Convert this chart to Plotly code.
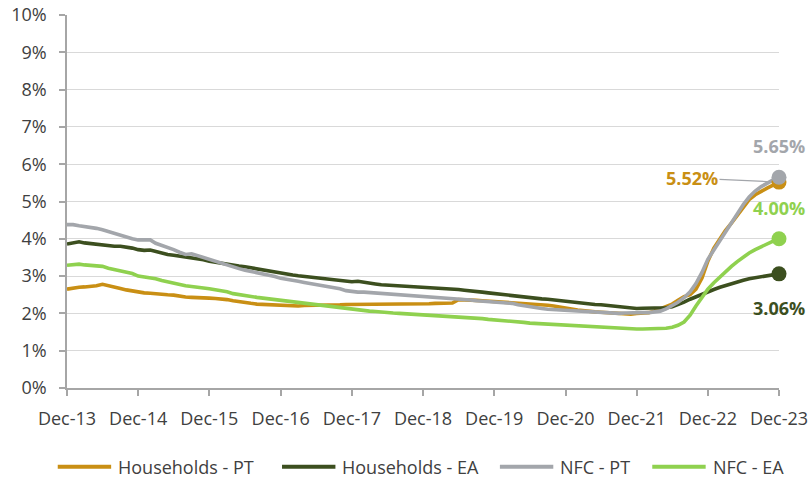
import pandas as pd
import plotly.graph_objects as go

# Monthly observations, Dec-2013 .. Dec-2023 (interest rates, %)
months = pd.date_range("2013-12-01", "2023-12-01", freq="MS")

households_pt = [
    2.65, 2.68, 2.70, 2.71, 2.72, 2.74, 2.78, 2.75, 2.71, 2.67, 2.63, 2.60,
    2.56, 2.55, 2.54, 2.52, 2.50, 2.50, 2.49, 2.46, 2.44, 2.43, 2.43, 2.42,
    2.41, 2.40, 2.39, 2.37, 2.34, 2.31, 2.29, 2.27, 2.25, 2.24, 2.23, 2.22,
    2.21, 2.20, 2.20, 2.20, 2.21, 2.21, 2.22, 2.22, 2.23, 2.23, 2.23, 2.24,
    2.24, 2.25, 2.25, 2.26, 2.25, 2.24, 2.25, 2.25, 2.24, 2.24, 2.25, 2.25,
    2.26, 2.26, 2.27, 2.27, 2.27, 2.28, 2.37, 2.37, 2.36, 2.35, 2.34, 2.33,
    2.32, 2.31, 2.31, 2.30, 2.29, 2.28, 2.27, 2.26, 2.24, 2.22, 2.20, 2.18,
    2.15, 2.12, 2.09, 2.07, 2.05, 2.04, 2.03, 2.02, 2.00, 1.99, 1.97, 1.98,
    2.00, 2.01, 2.02, 2.06, 2.12, 2.18, 2.25, 2.35, 2.45, 2.50, 2.65, 2.95,
    3.40, 3.75, 4.00, 4.22, 4.42, 4.62, 4.85, 5.05, 5.18, 5.28, 5.36, 5.44,
    5.52,
]

households_ea = [
    3.86, 3.88, 3.92, 3.89, 3.87, 3.86, 3.85, 3.82, 3.80, 3.80, 3.78, 3.75,
    3.71, 3.69, 3.70, 3.66, 3.62, 3.58, 3.56, 3.54, 3.51, 3.49, 3.47, 3.44,
    3.40, 3.37, 3.35, 3.33, 3.30, 3.27, 3.25, 3.22, 3.20, 3.18, 3.15, 3.12,
    3.08, 3.05, 3.03, 3.01, 2.99, 2.97, 2.95, 2.93, 2.91, 2.90, 2.88, 2.87,
    2.85, 2.86, 2.83, 2.81, 2.79, 2.77, 2.76, 2.75, 2.74, 2.73, 2.72, 2.71,
    2.70, 2.70, 2.70, 2.68, 2.66, 2.65, 2.64, 2.62, 2.61, 2.59, 2.57, 2.55,
    2.53, 2.52, 2.50, 2.48, 2.46, 2.44, 2.42, 2.41, 2.39, 2.38, 2.36, 2.34,
    2.33, 2.31, 2.30, 2.28, 2.26, 2.24, 2.23, 2.21, 2.20, 2.18, 2.16, 2.15,
    2.13, 2.14, 2.14, 2.13, 2.14, 2.15, 2.18, 2.23, 2.30, 2.38, 2.45, 2.52,
    2.58, 2.64, 2.70, 2.75, 2.80, 2.85, 2.89, 2.93, 2.96, 2.99, 3.01, 3.04,
    3.06,
]

nfc_pt = [
    4.38, 4.38, 4.35, 4.33, 4.31, 4.28, 4.24, 4.19, 4.13, 4.08, 4.04, 4.00,
    3.97, 3.98, 3.97, 3.88, 3.83, 3.78, 3.71, 3.64, 3.58, 3.60, 3.55, 3.50,
    3.44, 3.38, 3.34, 3.29, 3.24, 3.20, 3.16, 3.13, 3.10, 3.07, 3.03, 2.99,
    2.94, 2.92, 2.90, 2.86, 2.83, 2.80, 2.77, 2.75, 2.73, 2.70, 2.66, 2.61,
    2.58, 2.57, 2.57, 2.56, 2.55, 2.54, 2.53, 2.52, 2.51, 2.50, 2.48, 2.47,
    2.46, 2.45, 2.44, 2.43, 2.41, 2.40, 2.38, 2.37, 2.36, 2.34, 2.33, 2.31,
    2.30, 2.31, 2.30, 2.27, 2.23, 2.20, 2.17, 2.15, 2.13, 2.11, 2.10, 2.09,
    2.08, 2.07, 2.05, 2.04, 2.03, 2.02, 2.01, 2.01, 2.00, 2.00, 2.01, 2.02,
    2.03, 2.02, 2.02, 2.03, 2.06, 2.12, 2.20, 2.30, 2.42, 2.58, 2.80, 3.10,
    3.45, 3.70, 3.95, 4.20, 4.45, 4.68, 4.92, 5.12, 5.28, 5.40, 5.50, 5.58,
    5.65,
]

nfc_ea = [
    3.29, 3.31, 3.32, 3.30, 3.29, 3.27, 3.26, 3.21, 3.17, 3.14, 3.10, 3.07,
    3.00, 2.98, 2.97, 2.93, 2.88, 2.84, 2.82, 2.78, 2.74, 2.72, 2.71, 2.68,
    2.66, 2.64, 2.60, 2.58, 2.53, 2.50, 2.48, 2.45, 2.43, 2.41, 2.39, 2.37,
    2.35, 2.33, 2.31, 2.29, 2.27, 2.25, 2.22, 2.20, 2.18, 2.16, 2.14, 2.12,
    2.10, 2.09, 2.07, 2.06, 2.05, 2.03, 2.02, 2.01, 2.00, 1.99, 1.98, 1.97,
    1.97, 1.97, 1.96, 1.95, 1.94, 1.93, 1.92, 1.90, 1.88, 1.87, 1.86, 1.84,
    1.83, 1.82, 1.81, 1.80, 1.78, 1.76, 1.74, 1.73, 1.72, 1.72, 1.71, 1.70,
    1.68, 1.67, 1.66, 1.66, 1.65, 1.64, 1.64, 1.63, 1.62, 1.61, 1.60, 1.59,
    1.58, 1.58, 1.58, 1.58, 1.59, 1.60, 1.63, 1.68, 1.77, 1.95, 2.20, 2.45,
    2.65, 2.82, 2.98, 3.12, 3.26, 3.39, 3.51, 3.62, 3.71, 3.79, 3.87, 3.94,
    4.00,
]

tick_dates = ["2013-12-01", "2014-12-01", "2015-12-01", "2016-12-01", "2017-12-01",
              "2018-12-01", "2019-12-01", "2020-12-01", "2021-12-01", "2022-12-01",
              "2023-12-01"]
tick_labels = ["Dec-13", "Dec-14", "Dec-15", "Dec-16", "Dec-17", "Dec-18",
               "Dec-19", "Dec-20", "Dec-21", "Dec-22", "Dec-23"]

ORANGE, DARK, GREY, LIGHT = "#C98F14", "#3C4F1F", "#A3A6AB", "#8FD14F"
series = [
    ("Households - PT", households_pt, ORANGE),
    ("Households - EA", households_ea, DARK),
    ("NFC - PT", nfc_pt, GREY),
    ("NFC - EA", nfc_ea, LIGHT),
]

TEXT = "#404040"
FONT = "Open Sans"

fig = go.Figure()
for name, vals, color in series:
    fig.add_trace(go.Scatter(
        x=months, y=vals, name=name, mode="lines",
        line=dict(color=color, width=3.6), showlegend=False,
        hoverinfo="skip",
    ))

# end-of-period markers
for name, vals, color in series:
    fig.add_trace(go.Scatter(
        x=[months[-1]], y=[vals[-1]], mode="markers", showlegend=False,
        marker=dict(color=color, size=15), cliponaxis=False, hoverinfo="skip",
    ))

# end-of-period value labels
label_font = dict(family=FONT, size=18)
last = months[-1]
fig.add_annotation(x=last, y=nfc_pt[-1], text=f"<b>{nfc_pt[-1]:.2f}%</b>",
                   showarrow=False, yshift=31, font=dict(color=GREY, **label_font))
fig.add_annotation(x=last, y=households_pt[-1], text=f"<b>{households_pt[-1]:.2f}%</b>",
                   showarrow=True, ax=-87, ay=-4, arrowhead=0, arrowwidth=1.2,
                   arrowcolor=GREY, standoff=8,
                   font=dict(color=ORANGE, **label_font))
fig.add_annotation(x=last, y=nfc_ea[-1], text=f"<b>{nfc_ea[-1]:.2f}%</b>",
                   showarrow=False, yshift=31, font=dict(color=LIGHT, **label_font))
fig.add_annotation(x=last, y=households_ea[-1], text=f"<b>{households_ea[-1]:.2f}%</b>",
                   showarrow=False, yshift=-34, font=dict(color=DARK, **label_font))

# legend row below the plot: swatch line followed by the series name
legend_y = -0.211
legend_slots = [(-0.013, "Households - PT", ORANGE),
                (0.302, "Households - EA", DARK),
                (0.608, "NFC - PT", GREY),
                (0.822, "NFC - EA", LIGHT)]
for x0, name, color in legend_slots:
    fig.add_shape(type="line", xref="paper", yref="paper",
                  x0=x0, x1=x0 + 0.075, y0=legend_y, y1=legend_y,
                  line=dict(color=color, width=4))
    fig.add_annotation(xref="paper", yref="paper", x=x0 + 0.082, y=legend_y,
                       xanchor="left", yanchor="middle", showarrow=False,
                       text=name, font=dict(family=FONT, size=18, color=TEXT))

fig.update_layout(
    width=809, height=478,
    margin=dict(l=67, r=30, t=15, b=90, autoexpand=False),
    paper_bgcolor="white", plot_bgcolor="white",
    font=dict(family=FONT, size=18, color=TEXT),
    showlegend=False,
    xaxis=dict(
        type="date", range=["2013-12-01", "2023-12-01"],
        tickmode="array", tickvals=tick_dates, ticktext=tick_labels,
        showgrid=False, showline=True, linecolor="#A6A6A6", linewidth=1.5,
        ticks="outside", ticklen=6, tickcolor="#A6A6A6", tickwidth=1.5,
        ticklabelstandoff=8, automargin=False,
        zeroline=False, fixedrange=True,
    ),
    yaxis=dict(
        range=[0, 10], dtick=1, ticksuffix="%",
        showgrid=True, gridcolor="#D9D9D9", gridwidth=1.2,
        showline=True, linecolor="#A6A6A6", linewidth=1.5,
        ticks="outside", ticklen=6, tickcolor="#A6A6A6", tickwidth=1.5,
        ticklabelstandoff=9, automargin=False,
        zeroline=False, fixedrange=True,
    ),
)

fig.write_html("out.html")
